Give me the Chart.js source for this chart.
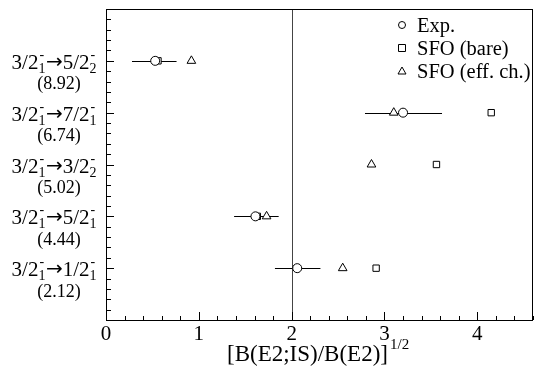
<!DOCTYPE html>
<html><head><meta charset="utf-8">
<script src="https://cdn.jsdelivr.net/npm/chart.js@4"></script>
<style>html,body{margin:0;padding:0;background:#fff}#wrap{width:542px;height:372px}</style>
</head><body><div id="wrap"><canvas id="c" width="542" height="372"></canvas></div>
<script>
// ---- data ----
const rowPos     = [1, 2, 3, 4, 5];
const fromLabel  = ['3/2', '3/2', '3/2', '3/2', '3/2'];
const fromSub    = ['1', '1', '1', '1', '1'];
const toLabel    = ['1/2', '5/2', '3/2', '7/2', '5/2'];
const toSub      = ['1', '1', '2', '1', '2'];
const energies   = ['(2.12)', '(4.44)', '(5.02)', '(6.74)', '(8.92)'];
const expVal     = [2.06, 1.61, null, 3.20, 0.53];
const expLow     = [1.82, 1.38, null, 2.79, 0.28];
const expHigh    = [2.31, 1.86, null, 3.62, 0.76];
const sfoBare    = [2.91, 1.63, 3.56, 4.15, 0.56];
const sfoEff     = [2.55, 1.73, 2.86, 3.10, 0.92];
const xTickVals  = [0, 1, 2, 3, 4];
const legendText = ['Exp.', 'SFO (bare)', 'SFO (eff. ch.)'];
const axisTitle  = '[B(E2;IS)/B(E2)]';
const axisSup    = '1/2';

const SERIF = '"Liberation Serif", "DejaVu Serif", serif';
function pts(vals){ return vals.map((v,i)=> v==null?null:{x:v,y:rowPos[i]}).filter(p=>p); }

const drawPlugin = {
  id:'custom',
  beforeDatasetsDraw(chart){
    const {ctx, chartArea:a, scales:{x,y}} = chart;
    ctx.save();
    ctx.strokeStyle='#444'; ctx.lineWidth=1;
    const x2 = Math.round(x.getPixelForValue(2))+0.5;
    ctx.beginPath(); ctx.moveTo(x2,a.top); ctx.lineTo(x2,a.bottom); ctx.stroke();
    ctx.strokeStyle='#000';
    expVal.forEach((v,i)=>{
      if(v==null) return;
      const yy = Math.round(y.getPixelForValue(rowPos[i]))+0.5;
      ctx.beginPath(); ctx.moveTo(x.getPixelForValue(expLow[i]),yy); ctx.lineTo(x.getPixelForValue(expHigh[i]),yy); ctx.stroke();
    });
    ctx.restore();
  },
  afterDraw(chart){
    const {ctx, chartArea:a, scales:{x,y}} = chart;
    ctx.save();
    ctx.strokeStyle='#000'; ctx.lineWidth=1;
    ctx.strokeRect(Math.round(a.left)+0.5, Math.round(a.top)+0.5, Math.round(a.right-a.left)-1, Math.round(a.bottom-a.top));
    for(let k=0;k<=23;k++){
      const v=k*0.2; if(v>4.6+1e-9) break;
      const px=Math.round(x.getPixelForValue(v))+0.5;
      const len = (k%5===0)?8:4;
      ctx.beginPath(); ctx.moveTo(px,a.bottom); ctx.lineTo(px,a.bottom-len); ctx.stroke();
    }
    for(let k=0;k<=30;k++){
      const v=k*0.2;
      const py=Math.round(y.getPixelForValue(v))+0.5;
      const len = (k%5===0)?8:5;
      ctx.beginPath(); ctx.moveTo(a.left,py); ctx.lineTo(a.left+len,py); ctx.stroke();
    }
    // y labels
    ctx.fillStyle='#000';
    const big='21px '+SERIF, small='14px '+SERIF, arrowFont='20px "DejaVu Sans", sans-serif';
    rowPos.forEach((r,i)=>{
      const py = y.getPixelForValue(r);
      const base = py+8;
      const parts=[
        {t:fromLabel[i],f:big},{stack:true,sup:'-',sub:fromSub[i]},
        {t:'\u2192',f:arrowFont,dy:-1},{t:toLabel[i],f:big},{stack:true,sup:'-',sub:toSub[i]}
      ];
      let w=0;
      parts.forEach(p=>{
        if(p.stack){ ctx.font=small; p.w=Math.max(ctx.measureText(p.sup).width, ctx.measureText(p.sub).width)+0.5; }
        else { ctx.font=p.f; p.w=ctx.measureText(p.t).width; }
        w+=p.w;
      });
      let cx = 97-w;
      ctx.textAlign='left'; ctx.textBaseline='alphabetic';
      parts.forEach(p=>{
        if(p.stack){ ctx.font=small; ctx.fillText(p.sup,cx+1,base-10); ctx.fillText(p.sub,cx,base+4); }
        else { ctx.font=p.f; ctx.fillText(p.t,cx,base+(p.dy||0)); }
        cx+=p.w;
      });
      ctx.font='18px '+SERIF; ctx.textAlign='center';
      ctx.fillText(energies[i], 59, base+20.5);
    });
    // axis title
    ctx.font='23px '+SERIF; ctx.textAlign='left';
    const tw = ctx.measureText(axisTitle).width;
    const tx = 227;
    ctx.fillText(axisTitle, tx, 361);
    ctx.font='15px '+SERIF; ctx.fillText(axisSup, tx+tw+2, 349);
    // legend
    const styles=['circle','rect','triangle'];
    legendText.forEach((t,i)=>{
      const ly = 25 + i*23;
      ctx.lineWidth=1; ctx.strokeStyle='#000'; ctx.fillStyle='#fff';
      ctx.beginPath();
      const mx=402;
      if(styles[i]==='circle'){ ctx.arc(mx,ly,3.5,0,Math.PI*2); }
      else if(styles[i]==='rect'){ ctx.rect(mx-3.5,ly-3.5,7,7); }
      else { ctx.moveTo(mx,ly-4); ctx.lineTo(mx+4,ly+3); ctx.lineTo(mx-4,ly+3); ctx.closePath(); }
      ctx.fill(); ctx.stroke();
      ctx.fillStyle='#000'; ctx.font='20.5px '+SERIF; ctx.textAlign='left';
      ctx.fillText(t, 417, ly+7);
    });
    ctx.restore();
  }
};

new Chart(document.getElementById('c'),{
  type:'scatter',
  data:{datasets:[
    {label:legendText[0],data:pts(expVal),pointStyle:'circle',pointRadius:4.5,borderColor:'#000',backgroundColor:'#fff',borderWidth:1},
    {label:legendText[1],data:pts(sfoBare),pointStyle:'rect',pointRadius:4.5,borderColor:'#000',backgroundColor:'#fff',borderWidth:1},
    {label:legendText[2],data:pts(sfoEff),pointStyle:'triangle',pointRadius:5,borderColor:'#000',backgroundColor:'#fff',borderWidth:1}
  ]},
  options:{
    responsive:false, animation:false, devicePixelRatio:1,
    layout:{padding:{top:9,right:9,left:0,bottom:0}},
    plugins:{legend:{display:false},tooltip:{enabled:false}},
    scales:{
      x:{type:'linear',min:0,max:4.6,
        afterBuildTicks:(s)=>{s.ticks=xTickVals.map(v=>({value:v}));},
        afterFit:(s)=>{s.height=52;},
        grid:{display:false,drawTicks:false},
        border:{display:false},
        ticks:{color:'#000',font:{family:SERIF,size:21},padding:2,maxRotation:0}
      },
      y:{type:'linear',min:0,max:6,
        afterFit:(s)=>{s.width=106;},
        grid:{display:false,drawTicks:false},
        border:{display:false},
        ticks:{display:false}
      }
    }
  },
  plugins:[drawPlugin]
});
</script></body></html>
